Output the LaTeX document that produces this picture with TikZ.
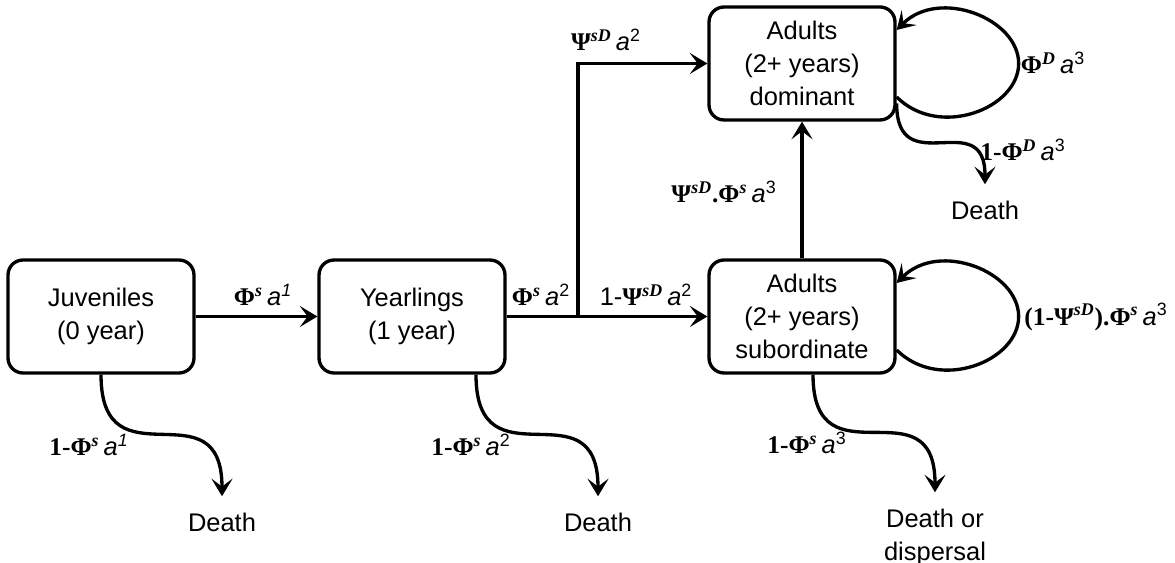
\documentclass[tikz,border=0pt]{standalone}
\usepackage{fontspec}
\setmainfont{Liberation Sans}
\newfontfamily\gkfont{Liberation Serif}
\usepackage{tikz}
\usetikzlibrary{arrows.meta}
\newcommand{\gk}[1]{{\gkfont\bfseries #1}}
\newcommand{\sps}[1]{\textsuperscript{\gkfont\bfseries\itshape #1}}
\newcommand{\acoef}[1]{\,{\itshape a}\textsuperscript{#1}}

\begin{document}
\begin{tikzpicture}[x=0.02cm,y=0.02cm,
 stage/.style={draw,line width=1.9pt,rounded corners=0.3cm,minimum width=3.72cm,minimum height=2.26cm,align=center,inner sep=0pt,font=\fontsize{14.5}{18.7}\selectfont},
 fate/.style={align=center,outer sep=6pt,font=\fontsize{14.5}{18.7}\selectfont},
 lbl/.style={inner sep=1pt,font=\fontsize{14.5}{16}\selectfont},
 flow/.style={line width=1.9pt,-{Stealth[length=10pt,width=12pt,inset=4.5pt]}}]
\useasboundingbox (0,0) rectangle (1175,563);
% stages
\node[stage] (juv) at (101,246.5) {Juveniles\\(0 year)};
\node[stage] (yrl) at (412,246.5) {Yearlings\\(1 year)};
\node[stage] (sub) at (802,246.5) {Adults\\(2+ years)\\subordinate};
\node[stage] (dom) at (802,499.5) {Adults\\(2+ years)\\dominant};
% fates
\node[fate] (dj) at (222,41) {Death};
\node[fate] (dy) at (598,41) {Death};
\node[fate] (ds) at (935,26) {Death or\\dispersal};
\node[fate] (dd) at (985,353) {Death};
% transitions
\coordinate (br) at (578,246.5);
\draw[flow] (juv) -- (yrl);
\draw[flow] (yrl) -- (sub);
\draw[flow] (br) |- (dom);
\draw[flow] (sub) -- (dom);
\draw[flow] ([yshift=-0.67cm]dom.east) .. controls +(-45:1.2cm) and +(0,-0.9cm) .. ([xshift=2.44cm]dom.east)
  .. controls +(0,0.9cm) and +(45:1.2cm) .. ([yshift=0.67cm]dom.east);
\draw[flow] ([yshift=-0.67cm]sub.east) .. controls +(-45:1.2cm) and +(0,-0.9cm) .. ([xshift=2.44cm]sub.east)
  .. controls +(0,0.9cm) and +(45:1.2cm) .. ([yshift=0.67cm]sub.east);
\draw[flow] (juv.south) to[out=-90,in=90,looseness=1.7] (dj);
\draw[flow] ([xshift=1.28cm]yrl.south) to[out=-90,in=90,looseness=1.7] (dy);
\draw[flow] ([xshift=0.22cm]sub.south) to[out=-90,in=90,looseness=1.7] (ds);
\draw[flow] ([yshift=-0.8cm]dom.east) to[out=-90,in=90,looseness=1.7] (dd);
% labels
\node[lbl] (ljy) at (263,268) {\gk{Φ}\sps{s}\acoef{\itshape 1}};
\node[lbl] (lyb) at (541,268) {\gk{Φ}\sps{s}\acoef{2}};
\node[lbl] (lys) at (646,268) {1-\gk{Ψ}\sps{sD}\acoef{2}};
\node[lbl] (lyd) at (606,523) {\gk{Ψ}\sps{sD}\acoef{2}};
\node[lbl] (lsd) at (724,371) {\gk{Ψ}\sps{sD}\gk{.Φ}\sps{s}\acoef{3}};
\node[lbl] (ldd) at (1053,500) {\gk{Φ}\sps{D}\acoef{3}};
\node[lbl] (ldx) at (1023,413) {\gk{1-Φ}\sps{D}\acoef{3}};
\node[lbl] (lss) at (1096,246) {\gk{(1-Ψ}\sps{sD}\gk{).Φ}\sps{s}\acoef{3}};
\node[lbl] (ljx) at (89,118) {\gk{1-Φ}\sps{s}\acoef{\itshape 1}};
\node[lbl] (lyx) at (471,118) {\gk{1-Φ}\sps{s}\acoef{2}};
\node[lbl] (lsx) at (807,120) {\gk{1-Φ}\sps{s}\acoef{3}};
\end{tikzpicture}
\end{document}
